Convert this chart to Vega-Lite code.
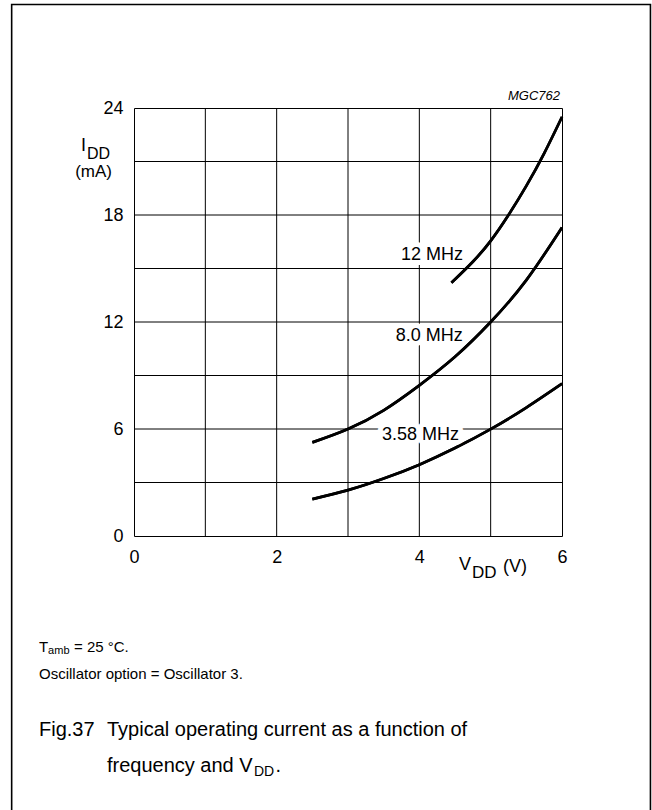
{
  "$schema": "https://vega.github.io/schema/vega-lite/v6.json",
  "width": 428,
  "height": 428,
  "autosize": {"type": "none"},
  "padding": {"left": 134, "top": 108, "right": 90, "bottom": 274},
  "background": "white",
  "config": {
    "view": {"stroke": "black", "strokeWidth": 1},
    "font": "Liberation Sans",
    "text": {"font": "Liberation Sans", "color": "black"}
  },
  "datasets": {
    "border": [{"v": -1.715, "v2": 7.24, "i": 29.8, "i2": -16}],
    "vgrid": [{"v": 1}, {"v": 2}, {"v": 3}, {"v": 4}, {"v": 5}],
    "hgrid": [{"i": 3}, {"i": 6}, {"i": 9}, {"i": 12}, {"i": 15}, {"i": 18}, {"i": 21}],
    "curves": [
      {"s": "12", "v": 4.45, "i": 14.2},
      {"s": "12", "v": 4.75, "i": 15.38},
      {"s": "12", "v": 5.0, "i": 16.55},
      {"s": "12", "v": 5.25, "i": 18.0},
      {"s": "12", "v": 5.5, "i": 19.63},
      {"s": "12", "v": 5.75, "i": 21.46},
      {"s": "12", "v": 6.0, "i": 23.5},
      {"s": "8", "v": 2.5, "i": 5.25},
      {"s": "8", "v": 3.0, "i": 6.0},
      {"s": "8", "v": 3.5, "i": 7.05},
      {"s": "8", "v": 4.0, "i": 8.45},
      {"s": "8", "v": 4.5, "i": 10.05},
      {"s": "8", "v": 5.0, "i": 12.0},
      {"s": "8", "v": 5.5, "i": 14.35},
      {"s": "8", "v": 6.0, "i": 17.3},
      {"s": "3.58", "v": 2.5, "i": 2.07},
      {"s": "3.58", "v": 3.0, "i": 2.57},
      {"s": "3.58", "v": 3.5, "i": 3.22},
      {"s": "3.58", "v": 4.0, "i": 4.0},
      {"s": "3.58", "v": 4.5, "i": 4.93},
      {"s": "3.58", "v": 5.0, "i": 5.99},
      {"s": "3.58", "v": 5.5, "i": 7.2},
      {"s": "3.58", "v": 6.0, "i": 8.54}
    ],
    "curveLabels": [
      {"v": 4.612, "i": 15.77, "t": "12 MHz"},
      {"v": 4.61, "i": 11.19, "t": "8.0 MHz"},
      {"v": 4.556, "i": 5.68, "t": "3.58 MHz"}
    ],
    "notes": [
      {"v": -1.332, "i": -6.21, "t": "T", "k": "foot"},
      {"v": -1.204, "i": -6.43, "t": "amb", "k": "footsub"},
      {"v": -0.841, "i": -6.21, "t": "= 25 °C.", "k": "foot"},
      {"v": -1.332, "i": -7.72, "t": "Oscillator option = Oscillator 3.", "k": "foot"},
      {"v": -1.332, "i": -10.86, "t": "Fig.37", "k": "cap"},
      {"v": -0.379, "i": -10.86, "t": "Typical operating current as a function of", "k": "cap"},
      {"v": -0.379, "i": -12.88, "t": "frequency and V", "k": "cap"},
      {"v": 1.682, "i": -13.22, "t": "DD", "k": "capsub"},
      {"v": 1.983, "i": -12.88, "t": ".", "k": "cap"},
      {"v": -0.743, "i": 21.89, "t": "I", "k": "ax"},
      {"v": 4.556, "i": -1.61, "t": "V", "k": "ax"},
      {"v": 4.738, "i": -2.06, "t": "DD", "k": "axsub"},
      {"v": 5.173, "i": -1.72, "t": "(V)", "k": "ax"},
      {"v": -0.336, "i": 21.44, "t": "DD", "k": "axsubR"},
      {"v": -0.308, "i": 20.43, "t": "(mA)", "k": "axR"}
    ],
    "code": [{"v": 5.972, "i": 24.69, "t": "MGC762"}]
  },
  "layer": [
    {
      "data": {"name": "curves"},
      "mark": {"type": "line", "color": "black", "strokeWidth": 2.7, "interpolate": "natural"},
      "encoding": {
        "x": {
          "field": "v", "type": "quantitative",
          "scale": {"domain": [0, 6], "nice": false, "zero": false},
          "axis": {
            "values": [0, 2, 4, 6], "format": "d",
            "grid": false, "ticks": false, "domain": false,
            "labelFontSize": 18, "labelFont": "Liberation Sans", "labelColor": "black",
            "labelPadding": 12, "labelFlush": false, "labelOverlap": false, "title": null
          }
        },
        "y": {
          "field": "i", "type": "quantitative",
          "scale": {"domain": [0, 24], "nice": false, "zero": false},
          "axis": {
            "values": [0, 6, 12, 18, 24], "format": "d",
            "grid": false, "ticks": false, "domain": false,
            "labelFontSize": 18, "labelFont": "Liberation Sans", "labelColor": "black",
            "labelPadding": 11, "labelFlush": false, "labelOverlap": false, "title": null
          }
        },
        "detail": {"field": "s", "type": "nominal"}
      }
    },
    {
      "data": {"name": "vgrid"},
      "mark": {"type": "rule", "color": "black", "strokeWidth": 1},
      "encoding": {
        "x": {"field": "v", "type": "quantitative", "title": null},
        "y": {"datum": 0, "type": "quantitative"},
        "y2": {"datum": 24}
      }
    },
    {
      "data": {"name": "hgrid"},
      "mark": {"type": "rule", "color": "black", "strokeWidth": 1},
      "encoding": {
        "y": {"field": "i", "type": "quantitative", "title": null},
        "x": {"datum": 0, "type": "quantitative"},
        "x2": {"datum": 6}
      }
    },
    {
      "data": {"name": "curveLabels"},
      "mark": {"type": "text", "align": "right", "baseline": "middle", "fontSize": 18, "stroke": "white", "strokeWidth": 10, "strokeOpacity": 1, "strokeJoin": "round", "fill": "white"},
      "encoding": {
        "x": {"field": "v", "type": "quantitative", "title": null},
        "y": {"field": "i", "type": "quantitative", "title": null},
        "text": {"field": "t"}
      }
    },
    {
      "data": {"name": "curves"},
      "mark": {"type": "line", "color": "black", "strokeWidth": 2.7, "interpolate": "natural"},
      "encoding": {
        "x": {"field": "v", "type": "quantitative", "title": null},
        "y": {"field": "i", "type": "quantitative", "title": null},
        "detail": {"field": "s", "type": "nominal"}
      }
    },
    {
      "data": {"name": "border"},
      "mark": {"type": "rect", "fill": null, "fillOpacity": 0, "stroke": "black", "strokeWidth": 1.6, "clip": false},
      "encoding": {
        "x": {"field": "v", "type": "quantitative", "title": null},
        "x2": {"field": "v2"},
        "y": {"field": "i", "type": "quantitative", "title": null},
        "y2": {"field": "i2"}
      }
    },
    {
      "data": {"name": "curveLabels"},
      "mark": {"type": "text", "align": "right", "baseline": "middle", "fontSize": 18, "fill": "black"},
      "encoding": {
        "x": {"field": "v", "type": "quantitative", "title": null},
        "y": {"field": "i", "type": "quantitative", "title": null},
        "text": {"field": "t"}
      }
    },
    {
      "data": {"name": "notes"},
      "transform": [{"filter": "datum.k === 'foot'"}],
      "mark": {"type": "text", "align": "left", "baseline": "middle", "fontSize": 15, "clip": false, "fill": "black"},
      "encoding": {
        "x": {"field": "v", "type": "quantitative", "title": null},
        "y": {"field": "i", "type": "quantitative", "title": null},
        "text": {"field": "t"}
      }
    },
    {
      "data": {"name": "notes"},
      "transform": [{"filter": "datum.k === 'footsub'"}],
      "mark": {"type": "text", "align": "left", "baseline": "middle", "fontSize": 11, "clip": false, "fill": "black"},
      "encoding": {
        "x": {"field": "v", "type": "quantitative", "title": null},
        "y": {"field": "i", "type": "quantitative", "title": null},
        "text": {"field": "t"}
      }
    },
    {
      "data": {"name": "notes"},
      "transform": [{"filter": "datum.k === 'cap'"}],
      "mark": {"type": "text", "align": "left", "baseline": "middle", "fontSize": 20, "clip": false, "fill": "black"},
      "encoding": {
        "x": {"field": "v", "type": "quantitative", "title": null},
        "y": {"field": "i", "type": "quantitative", "title": null},
        "text": {"field": "t"}
      }
    },
    {
      "data": {"name": "notes"},
      "transform": [{"filter": "datum.k === 'capsub'"}],
      "mark": {"type": "text", "align": "left", "baseline": "middle", "fontSize": 14, "clip": false, "fill": "black"},
      "encoding": {
        "x": {"field": "v", "type": "quantitative", "title": null},
        "y": {"field": "i", "type": "quantitative", "title": null},
        "text": {"field": "t"}
      }
    },
    {
      "data": {"name": "notes"},
      "transform": [{"filter": "datum.k === 'ax'"}],
      "mark": {"type": "text", "align": "left", "baseline": "middle", "fontSize": 18, "clip": false, "fill": "black"},
      "encoding": {
        "x": {"field": "v", "type": "quantitative", "title": null},
        "y": {"field": "i", "type": "quantitative", "title": null},
        "text": {"field": "t"}
      }
    },
    {
      "data": {"name": "notes"},
      "transform": [{"filter": "datum.k === 'axsub'"}],
      "mark": {"type": "text", "align": "left", "baseline": "middle", "fontSize": 17, "clip": false, "fill": "black"},
      "encoding": {
        "x": {"field": "v", "type": "quantitative", "title": null},
        "y": {"field": "i", "type": "quantitative", "title": null},
        "text": {"field": "t"}
      }
    },
    {
      "data": {"name": "notes"},
      "transform": [{"filter": "datum.k === 'axsubR'"}],
      "mark": {"type": "text", "align": "right", "baseline": "middle", "fontSize": 16, "clip": false, "fill": "black"},
      "encoding": {
        "x": {"field": "v", "type": "quantitative", "title": null},
        "y": {"field": "i", "type": "quantitative", "title": null},
        "text": {"field": "t"}
      }
    },
    {
      "data": {"name": "notes"},
      "transform": [{"filter": "datum.k === 'axR'"}],
      "mark": {"type": "text", "align": "right", "baseline": "middle", "fontSize": 17, "clip": false, "fill": "black"},
      "encoding": {
        "x": {"field": "v", "type": "quantitative", "title": null},
        "y": {"field": "i", "type": "quantitative", "title": null},
        "text": {"field": "t"}
      }
    },
    {
      "data": {"name": "code"},
      "mark": {"type": "text", "align": "right", "baseline": "middle", "fontSize": 13, "fontStyle": "italic", "clip": false, "fill": "black"},
      "encoding": {
        "x": {"field": "v", "type": "quantitative", "title": null},
        "y": {"field": "i", "type": "quantitative", "title": null},
        "text": {"field": "t"}
      }
    }
  ]
}
